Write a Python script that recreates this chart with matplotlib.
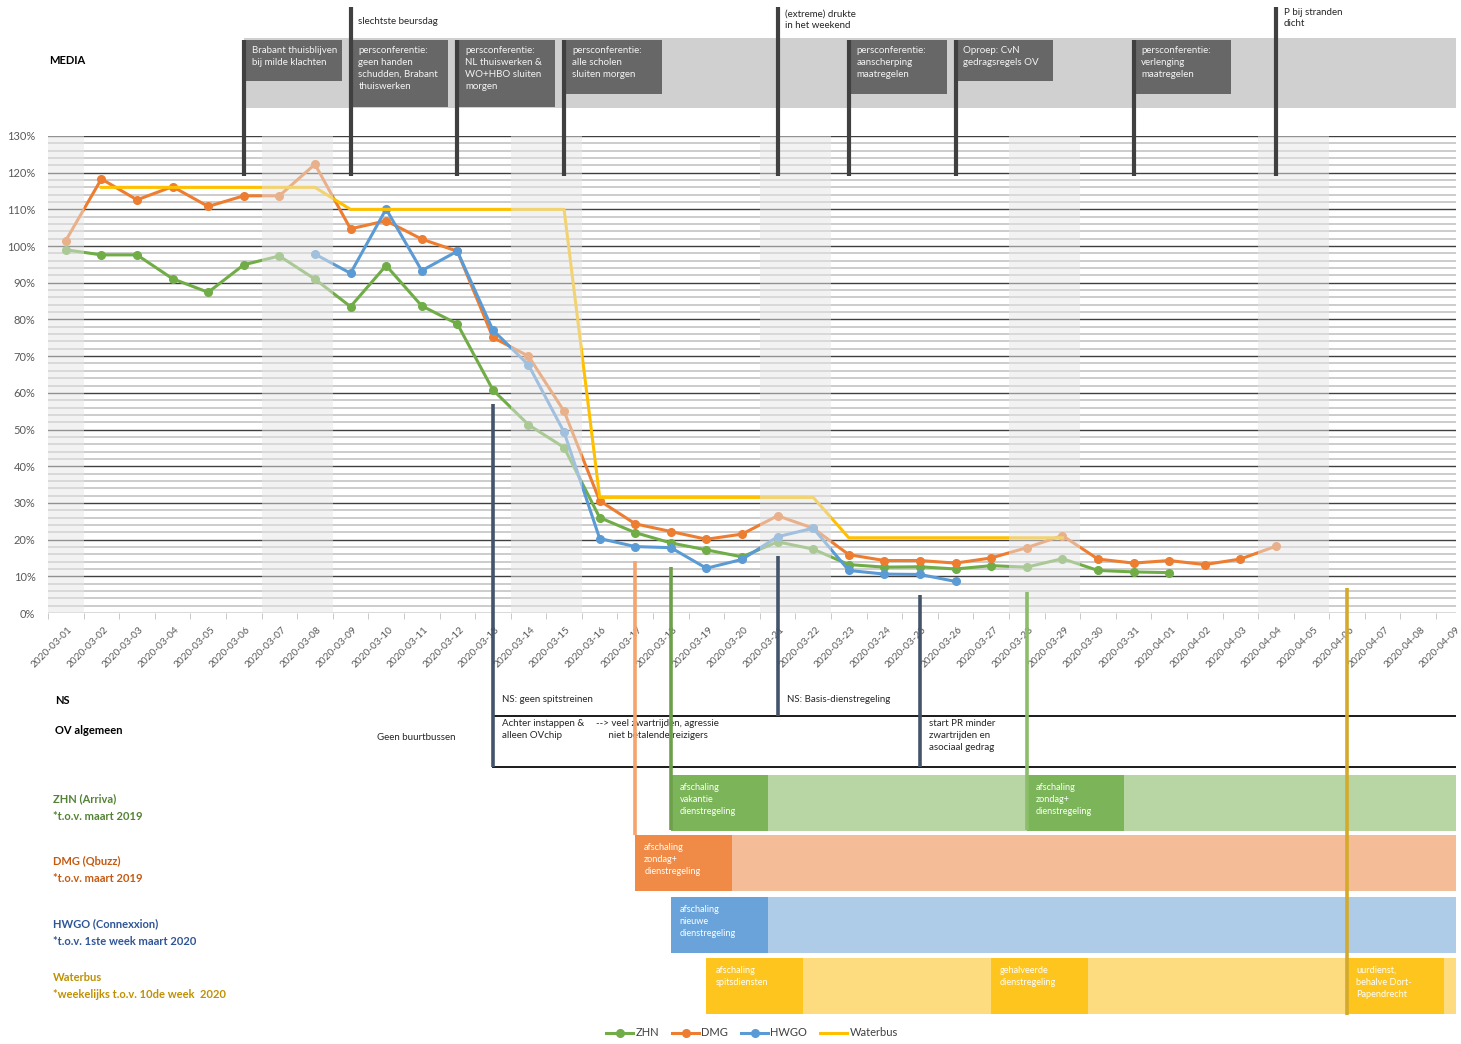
import matplotlib
matplotlib.use('Agg')
import matplotlib.pyplot as plt
import matplotlib.transforms as mtransforms
from matplotlib.patches import Rectangle
import numpy as np
import pandas as pd

plt.rcParams['font.family'] = ['Lato', 'DejaVu Sans']

# --- data -----------------------------------------------------------------
dates = list(pd.date_range('2020-03-01', '2020-04-09').strftime('%Y-%m-%d'))

zhn_start = '2020-03-01'
zhn = [99.0, 97.6, 97.6, 91.1, 87.4, 94.9, 97.3, 91.0, 83.5, 94.7, 83.7, 78.8,
       60.8, 51.3, 45.1, 26.0, 21.9, 19.1, 17.2, 15.3, 19.4, 17.4, 13.2, 12.5,
       12.6, 12.0, 12.9, 12.5, 14.8, 11.6, 11.2, 11.0]

dmg_start = '2020-03-01'
dmg = [101.5, 118.3, 112.6, 116.2, 110.8, 113.7, 113.7, 122.3, 104.7, 106.9,
       101.9, 98.6, 75.1, 70.0, 55.0, 30.6, 24.3, 22.2, 20.1, 21.5, 26.5, 23.1,
       15.9, 14.3, 14.3, 13.6, 15.0, 17.8, 21.1, 14.7, 13.6, 14.3, 13.2, 14.7,
       18.2]

hwgo_start = '2020-03-08'
hwgo = [97.8, 92.6, 110.1, 93.3, 98.6, 77.1, 67.6, 49.3, 20.3, 18.1, 17.8,
        12.2, 14.6, 20.8, 23.1, 11.6, 10.6, 10.5, 8.6]

waterbus_start = '2020-03-02'
waterbus = [116, 116, 116, 116, 116, 116, 116,
            110, 110, 110, 110, 110, 110, 110,
            31.5, 31.5, 31.5, 31.5, 31.5, 31.5, 31.5,
            20.5, 20.5, 20.5, 20.5, 20.5, 20.5, 20.5]

series_names = ['ZHN', 'DMG', 'HWGO', 'Waterbus']

# media events; notes are free text above the grey band
media_box_dates = ['2020-03-06', '2020-03-09', '2020-03-12', '2020-03-15',
                   '2020-03-23', '2020-03-26', '2020-03-31']
media_box_texts = ['Brabant thuisblijven\nbij milde klachten',
                   'persconferentie:\ngeen handen\nschudden, Brabant\nthuiswerken',
                   'persconferentie:\nNL thuiswerken &\nWO+HBO sluiten\nmorgen',
                   'persconferentie:\nalle scholen\nsluiten morgen',
                   'persconferentie:\naanscherping\nmaatregelen',
                   'Oproep: CvN\ngedragsregels OV',
                   'persconferentie:\nverlenging\nmaatregelen']
media_note_dates = ['2020-03-09', '2020-03-21', '2020-04-04']
media_note_texts = ['slechtste beursdag', '(extreme) drukte\nin het weekend',
                    'P bij stranden\ndicht']

ns_dates = ['2020-03-13', '2020-03-21']
ns_texts = ['NS: geen spitstreinen', 'NS: Basis-dienstregeling']
ov_dates = ['2020-03-10', '2020-03-13', '2020-03-16', '2020-03-25']
ov_texts = ['Geen buurtbussen', 'Achter instappen &\nalleen OVchip',
            '--> veel zwartrijden, agressie\n     niet betalende reizigers',
            'start PR minder\nzwartrijden en\nasociaal gedrag']

row_labels = ['ZHN (Arriva)\n*t.o.v. maart 2019',
              'DMG (Qbuzz)\n*t.o.v. maart 2019',
              'HWGO (Connexxion)\n*t.o.v. 1ste week maart 2020',
              'Waterbus\n*weekelijks t.o.v. 10de week  2020']
row_start = ['2020-03-18', '2020-03-17', '2020-03-18', '2020-03-19']
step_dates = [['2020-03-18', '2020-03-28'],
              ['2020-03-17'],
              ['2020-03-18'],
              ['2020-03-19', '2020-03-27', '2020-04-06']]
step_texts = [['afschaling\nvakantie\ndienstregeling', 'afschaling\nzondag+\ndienstregeling'],
              ['afschaling\nzondag+\ndienstregeling'],
              ['afschaling\nnieuwe\ndienstregeling'],
              ['afschaling\nspitsdiensten', 'gehalveerde\ndienstregeling',
               'uurdienst,\nbehalve Dort-\nPapendrecht']]

# --- styling ---------------------------------------------------------------
line_colors = ['#70ad47', '#ed7d31', '#5b9bd5', '#ffc000']
row_text_colors = ['#548235', '#c55a11', '#2f5597', '#bf9000']
row_light = ['#b8d6a3', '#f5bc98', '#aecbe8', '#fddc80']
row_dark = ['#7cb45a', '#ef8b47', '#6aa3d9', '#fdc51e']
row_y = [775, 835, 897, 958]
row_label_y = [808, 870, 933, 986]
row_h = 56

W, H = 1461, 1044
fig = plt.figure(figsize=(W / 100, H / 100), dpi=100)


def fx(px):
    return px / W


def fy(py):
    return 1 - py / H


def pos(d):
    return dates.index(d)


x_left, x_right = -0.5, 39.06

ax = fig.add_axes([fx(48), fy(613), (1456 - 48) / W, (613 - 136) / H])

handles = []
for name, start, vals, col in zip(series_names,
                                  [zhn_start, dmg_start, hwgo_start, waterbus_start],
                                  [zhn, dmg, hwgo, waterbus], line_colors):
    x = np.arange(pos(start), pos(start) + len(vals))
    mk = None if name == 'Waterbus' else 'o'
    ln, = ax.plot(x, vals, color=col, lw=2.2, marker=mk, ms=5.5, zorder=3,
                  label=name)
    handles.append(ln)

# weekend columns, drawn over the lines like in the original
for i, d in enumerate(pd.to_datetime(dates)):
    if d.weekday() >= 5:
        ax.axvspan(i - 0.5, i + 0.5, color='#e6e6e6', alpha=0.5, lw=0, zorder=4)

ax.set_yticks(np.arange(0, 131, 10))
ax.set_yticklabels([f'{v}%' for v in range(0, 131, 10)], fontsize=8, color='#595959')
ax.set_yticks(np.arange(0, 131, 2), minor=True)
ax.grid(which='major', axis='y', color='#3f3f3f', lw=1.0)
ax.grid(which='minor', axis='y', color='#c8c8c8', lw=1.3)
ax.set_axisbelow(True)
ax.tick_params(axis='y', which='both', length=0, pad=9)

ax.set_xticks(range(len(dates)))
ax.set_xticklabels(dates, rotation=45, ha='right', rotation_mode='anchor',
                   fontsize=7.2, color='#595959')
ax.set_xticks(np.arange(len(dates) + 1) - 0.5, minor=True)
ax.tick_params(axis='x', which='major', length=0, pad=5)
ax.tick_params(axis='x', which='minor', length=4, color='#bfbfbf')
shift = mtransforms.ScaledTranslation(0.02, -0.05, fig.dpi_scale_trans)
for lab in ax.get_xticklabels():
    lab.set_transform(lab.get_transform() + shift)
for s in ax.spines.values():
    s.set_visible(False)
ax.set_xlim(x_left, x_right)
ax.set_ylim(0, 130)

# --- overlay for annotations (x = day index, y = pixel rows) ----------------
ov = fig.add_axes([fx(48), 0, (1456 - 48) / W, 1], zorder=10)
ov.set_xlim(x_left, x_right)
ov.set_ylim(H, 0)
ov.axis('off')

# media band
m0 = pos(media_box_dates[0])
ov.add_patch(Rectangle((m0, 38), x_right - m0 + 1, 70, color='#d0d0d0', lw=0, zorder=1))
fig.text(fx(49), fy(61), 'MEDIA', fontsize=8, fontweight='bold', va='center')

pole_top = {}
for d, t in zip(media_box_dates, media_box_texts):
    p = pos(d)
    n = t.count('\n') + 1
    ov.add_patch(Rectangle((p, 40), 2.75, 15 + 13 * n, color='#676767', lw=0, zorder=2))
    ov.text(p + 0.22, 46, t, fontsize=7, color='#f4f4f4', va='top', ha='left',
            linespacing=1.42, zorder=4)
    pole_top[p] = min(pole_top.get(p, 999), 40)
for d, t, ty in zip(media_note_dates, media_note_texts, [17, 10, 8]):
    p = pos(d)
    ov.text(p + 0.22, ty, t, fontsize=7, color='#262626', va='top', ha='left',
            linespacing=1.3, zorder=4)
    pole_top[p] = min(pole_top.get(p, 999), 7)
for p, top in pole_top.items():
    ov.plot([p, p], [top, 176], color='#404040', lw=3, solid_capstyle='butt', zorder=3)

# NS / OV algemeen rows
fig.text(fx(55), fy(700), 'NS', fontsize=8, fontweight='bold', va='center')
fig.text(fx(55), fy(731), 'OV algemeen', fontsize=8, fontweight='bold', va='center')
for d, t in zip(ns_dates, ns_texts):
    ov.text(pos(d) + 0.25, 700, t, fontsize=7, color='#262626', va='center')
for d, t in zip(ov_dates, ov_texts):
    if t.startswith('Geen'):
        ov.text(pos(d) - 0.25, 737, t, fontsize=7, color='#262626', va='center')
    else:
        dx = -0.1 if t.startswith('-->') else 0.25
        ov.text(pos(d) + dx, 719, t, fontsize=7, color='#262626', va='top',
                linespacing=1.4)
o0 = pos(ov_dates[1])
ov.add_patch(Rectangle((o0, 716), x_right - o0 + 1, 51, fill=False, ec='#1a1a1a',
                       lw=1.4, zorder=2))

# service rows
for k in range(4):
    fig.text(fx(53), fy(row_label_y[k]), row_labels[k], fontsize=8, fontweight='bold',
             color=row_text_colors[k], va='center', linespacing=1.75)
    s = pos(row_start[k])
    ov.add_patch(Rectangle((s, row_y[k]), x_right - s + 1, row_h, color=row_light[k],
                           lw=0, zorder=1))
    for d, t in zip(step_dates[k], step_texts[k]):
        p = pos(d)
        ov.add_patch(Rectangle((p, row_y[k]), 2.72, row_h, color=row_dark[k], lw=0,
                               zorder=2))
        ov.text(p + 0.25, row_y[k] + 8, t, fontsize=6.6, color='white', va='top',
                linespacing=1.45, zorder=3)

# connector lines from chart to rows
conn_dates = ['2020-03-13', '2020-03-21', '2020-03-25', '2020-03-17',
              '2020-03-18', '2020-03-28', '2020-04-06']
conn_y = [(404, 767), (556, 716), (595, 767), (561, 835), (567, 830), (592, 830),
          (588, 1015)]
conn_col = ['#44546a', '#44546a', '#44546a', '#f4a46c', '#6ea04a', '#8cbd6a', '#d4aa2c']
for d, (y0, y1), c in zip(conn_dates, conn_y, conn_col):
    ov.plot([pos(d), pos(d)], [y0, y1], color=c, lw=2.6, solid_capstyle='butt', zorder=5)

# legend
fig.legend(handles=handles, loc='center', bbox_to_anchor=(fx(752), fy(1033)), ncol=4,
           frameon=False, fontsize=8, handlelength=2.4, columnspacing=1.2,
           handletextpad=0.2, labelcolor='#404040')

fig.savefig('out.png', dpi=100)
